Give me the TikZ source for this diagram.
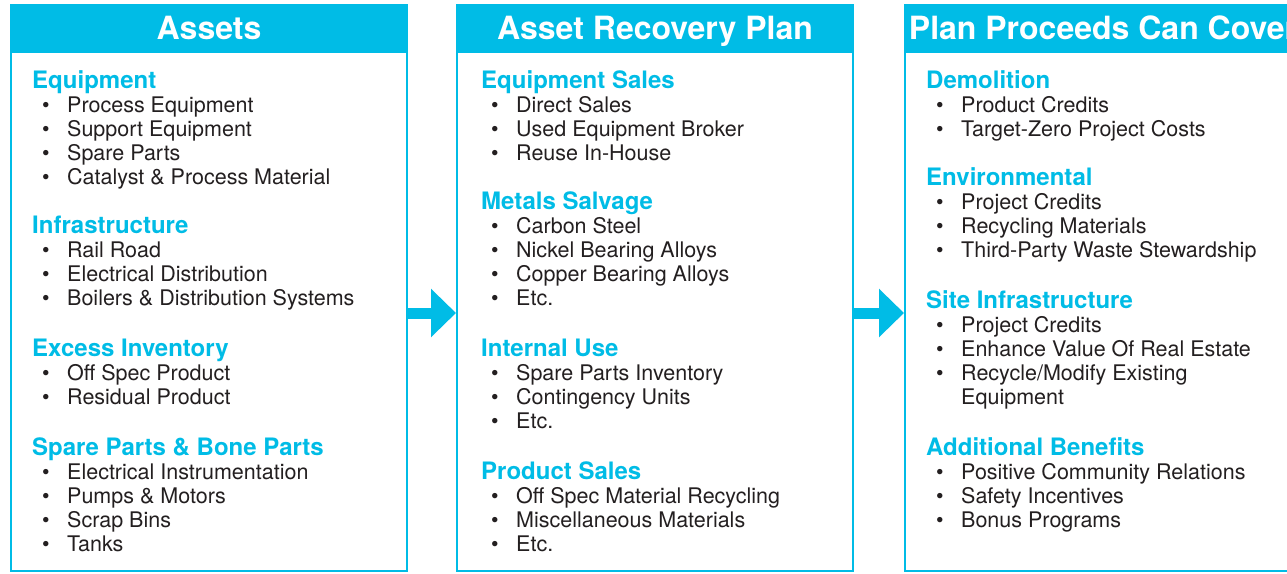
\documentclass[tikz,border=0pt]{standalone}
\usepackage{fontspec}
\setmainfont{TeX Gyre Heros}
\usetikzlibrary{arrows.meta}
\definecolor{brand}{RGB}{0,188,230}
\definecolor{ink}{RGB}{35,31,32}
\newcommand{\sechead}[1]{{\color{brand}\fontsize{24}{24}\selectfont\bfseries #1}}
\newcommand{\itm}[1]{\hspace*{10pt}\makebox[25pt][l]{\textbullet}#1}

\begin{document}
\begin{tikzpicture}[x=1pt,y=-1pt]
        \tikzstyle{column}=[draw=brand,line width=2pt,fill=white,%
          minimum width=396pt,minimum height=566pt,inner sep=0]
        \tikzstyle{header}=[fill=brand,text=white,minimum width=398pt,%
          minimum height=49pt,inner sep=0,anchor=north,%
          text height=23pt,text depth=2pt,%
          font=\fontsize{32}{32}\selectfont\bfseries]
        % placed at the baseline of the last line
        \tikzstyle{section}=[anchor=base west,align=left,inner sep=0,%
          text=ink,font=\fontsize{21.5}{24}\selectfont]
        \tikzstyle{flow}=[brand,line width=11pt,-{Triangle[length=25pt,width=47pt]}]

      \clip (0,0) rectangle (1287,573);
      \fill[white] (0,0) rectangle (1287,573);

      % the three columns
      \node[column] (assets) at (209,288) {};
      \node[column] (recovery) at (655,288) {};
      \node[column] (proceeds) at (1103,288) {};

      \node[header] (assetsHead) at (209,4) {Assets};
      \node[header] (recoveryHead) at (655,4) {Asset Recovery Plan};
      \node[header] (proceedsHead) at (1103,4) {Plan Proceeds Can Cover};

      % Assets
      \node[section] (equip) at (32,184) {\sechead{Equipment}\\
        \itm{Process Equipment}\\ \itm{Support Equipment}\\
        \itm{Spare Parts}\\ \itm{Catalyst \& Process Material}};
      \node[section] (infra) at (32,305) {\sechead{Infrastructure}\\
        \itm{Rail Road}\\ \itm{Electrical Distribution}\\
        \itm{Boilers \& Distribution Systems}};
      \node[section] (excess) at (32,404) {\sechead{Excess Inventory}\\
        \itm{Off Spec Product}\\ \itm{Residual Product}};
      \node[section] (spare) at (32,551) {\sechead{Spare Parts \& Bone Parts}\\
        \itm{Electrical Instrumentation}\\ \itm{Pumps \& Motors}\\
        \itm{Scrap Bins}\\ \itm{Tanks}};

      % Asset Recovery Plan
      \node[section] (sales) at (481,160) {\sechead{Equipment Sales}\\
        \itm{Direct Sales}\\ \itm{Used Equipment Broker}\\
        \itm{Reuse In-House}};
      \node[section] (metals) at (481,305) {\sechead{Metals Salvage}\\
        \itm{Carbon Steel}\\ \itm{Nickel Bearing Alloys}\\
        \itm{Copper Bearing Alloys}\\ \itm{Etc.}};
      \node[section] (internal) at (481,428) {\sechead{Internal Use}\\
        \itm{Spare Parts Inventory}\\ \itm{Contingency Units}\\
        \itm{Etc.}};
      \node[section] (product) at (481,551) {\sechead{Product Sales}\\
        \itm{Off Spec Material Recycling}\\ \itm{Miscellaneous Materials}\\
        \itm{Etc.}};

      % Plan Proceeds Can Cover
      \node[section] (demo) at (926,136) {\sechead{Demolition}\\
        \itm{Product Credits}\\ \itm{Target-Zero Project Costs}};
      \node[section] (env) at (926,257) {\sechead{Environmental}\\
        \itm{Project Credits}\\ \itm{Recycling Materials}\\
        \itm{Third-Party Waste Stewardship}};
      \node[section] (site) at (926,404) {\sechead{Site Infrastructure}\\
        \itm{Project Credits}\\ \itm{Enhance Value Of Real Estate}\\
        \itm{Recycle/Modify Existing}\\ \hspace*{35pt}Equipment};
      \node[section] (benefits) at (926,527) {\sechead{Additional Benefits}\\
        \itm{Positive Community Relations}\\ \itm{Safety Incentives}\\
        \itm{Bonus Programs}};

      \draw[flow] ([yshift=-25pt]assets.east) -- ([yshift=-25pt]recovery.west);
      \draw[flow] ([yshift=-25pt]recovery.east) -- ([yshift=-25pt]proceeds.west);
    \end{tikzpicture}
\end{document}
